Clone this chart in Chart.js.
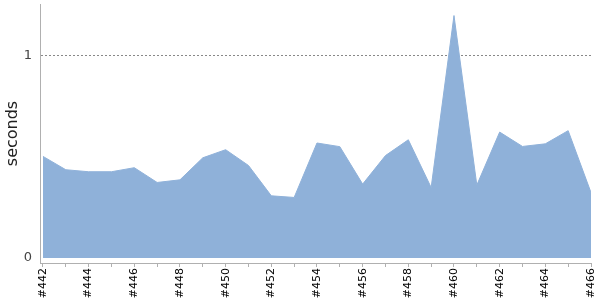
<!DOCTYPE html>
<html>
<head>
<meta charset="utf-8">
<script src="https://cdn.jsdelivr.net/npm/chart.js@4"></script>
<style>
  html, body { margin: 0; padding: 0; background: #fff; }
  #wrap { width: 600px; height: 300px; }
</style>
</head>
<body>
<div id="wrap"><canvas id="buildChart"></canvas></div>
<script>
const builds = [442, 443, 444, 445, 446, 447, 448, 449, 450, 451, 452, 453, 454,
  455, 456, 457, 458, 459, 460, 461, 462, 463, 464, 465, 466];
const durations = [0.502, 0.436, 0.426, 0.426, 0.446, 0.373, 0.386, 0.495, 0.535,
  0.457, 0.307, 0.299, 0.568, 0.550, 0.365, 0.506, 0.584, 0.348, 1.198, 0.360,
  0.622, 0.551, 0.564, 0.629, 0.323];
const yTicks = [0, 1];

const points = builds.map((b, i) => ({ x: b, y: durations[i] }));

Chart.defaults.font.family = "'DejaVu Sans', sans-serif";
Chart.defaults.animation = false;

// fixed axis sizes so the plot area lands where the original one does
function fixY(axis) {
  axis.width = 40;
  axis.paddingTop = 0;
  axis.paddingBottom = 0;
}
function fixX(axis) {
  axis.height = 37;
  axis.paddingLeft = 0;
  axis.paddingRight = 0;
}

new Chart(document.getElementById("buildChart"), {
  type: "line",
  data: {
    datasets: [{
      label: "seconds",
      data: points,
      fill: "origin",
      backgroundColor: "#8fb1d9",
      borderColor: "#8fb1d9",
      borderWidth: 1,
      pointRadius: 0,
      tension: 0,
    }],
  },
  options: {
    responsive: true,
    maintainAspectRatio: false,
    layout: { padding: { top: 4, right: 9, left: 0, bottom: 0 } },
    plugins: { legend: { display: false }, tooltip: { enabled: false } },
    scales: {
      x: {
        type: "linear",
        min: 441.87,
        max: 466,
        afterBuildTicks: (axis) => { axis.ticks = builds.map((value) => ({ value })); },
        afterFit: fixX,
        grid: { drawOnChartArea: false, tickLength: 4, tickColor: "#b0b0b0" },
        border: { color: "#b0b0b0" },
        ticks: {
          autoSkip: false,
          maxRotation: 90,
          minRotation: 90,
          color: "#000",
          font: { size: 11 },
          padding: 1,
          callback: (value) => (value % 2 === 0 ? `#${value}` : ""),
        },
      },
      y: {
        min: -0.025,
        max: 1.255,
        afterBuildTicks: (axis) => { axis.ticks = yTicks.map((value) => ({ value })); },
        afterFit: fixY,
        grid: {
          color: (ctx) => (ctx.tick && ctx.tick.value === 1 ? "#888" : "rgba(0,0,0,0)"),
          drawTicks: false,
        },
        border: { color: "#b0b0b0", dash: [2, 2] },
        ticks: { color: "#444", font: { size: 13 }, padding: 8 },
        title: {
          display: true,
          text: "seconds",
          color: "#222",
          font: { size: 16 },
          padding: 3,
        },
      },
    },
  },
});
</script>
</body>
</html>
